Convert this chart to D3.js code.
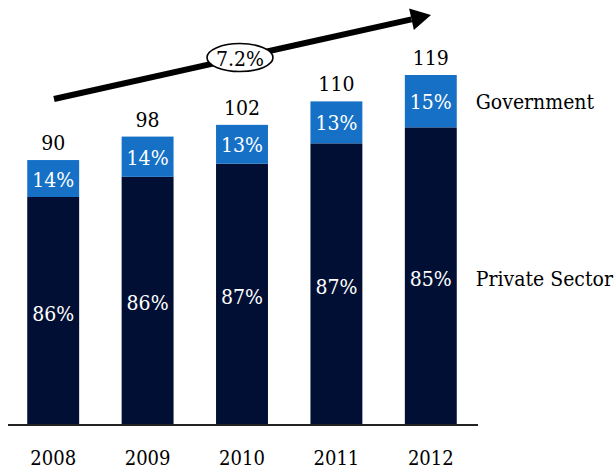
<!DOCTYPE html>
<html><head><meta charset="utf-8">
<script src="https://cdn.jsdelivr.net/npm/d3@7"></script>
<style>
html,body{margin:0;padding:0;background:#fff;}
svg text{font-family:"DejaVu Serif Condensed","DejaVu Serif",serif;font-stretch:condensed;}
</style></head>
<body>
<svg id="chart" width="614" height="471"></svg>
<script>
const years = ["2008","2009","2010","2011","2012"];
const totals = [90, 98, 102, 110, 119];
const privateShare = [86, 86, 87, 87, 85];
const governmentShare = [14, 14, 13, 13, 15];
const cagrLabel = "7.2%";
const seriesNames = ["Government", "Private Sector"];

const colGov = "#1570c6", colPriv = "#000f33";
const svg = d3.select("#chart");
const baseY = 424, topY = 75;
const FS = 21;

const x = d3.scaleBand().domain(years).range([6, 478]).paddingInner(0.45).paddingOuter(0.225);
const y = d3.scaleLinear().domain([0, d3.max(totals)]).range([baseY, topY]);

const data = years.map((yr, i) => {
  const t = totals[i];
  const priv = t * privateShare[i] / 100;
  return {yr, t, priv, ps: privateShare[i], gs: governmentShare[i]};
});

const g = svg.append("g");
g.selectAll("rect.priv").data(data).join("rect").attr("class","priv")
  .attr("x", d => x(d.yr)).attr("width", x.bandwidth())
  .attr("y", d => y(d.priv)).attr("height", d => y(0) - y(d.priv))
  .attr("fill", colPriv);
g.selectAll("rect.gov").data(data).join("rect").attr("class","gov")
  .attr("x", d => x(d.yr)).attr("width", x.bandwidth())
  .attr("y", d => y(d.t)).attr("height", d => y(d.priv) - y(d.t))
  .attr("fill", colGov);

const axis = svg.append("g").attr("transform", `translate(0,${baseY})`)
  .call(d3.axisBottom(x).tickSize(0).tickPadding(0));
axis.select(".domain").remove();
axis.selectAll("text").attr("font-size", 20).attr("fill", "#000")
  .attr("font-family", null).attr("dy", null).attr("y", 41);
svg.append("line").attr("x1", 8).attr("x2", 478).attr("y1", baseY + 1).attr("y2", baseY + 1)
  .attr("stroke", "#222").attr("stroke-width", 2);

g.selectAll("text.gs").data(data).join("text")
  .attr("x", d => x(d.yr) + x.bandwidth()/2)
  .attr("y", d => (y(d.t) + y(d.priv))/2 + 8)
  .attr("text-anchor","middle").attr("font-size", FS).attr("fill","#fff")
  .text(d => d.gs + "%");
g.selectAll("text.ps").data(data).join("text")
  .attr("x", d => x(d.yr) + x.bandwidth()/2)
  .attr("y", d => (y(d.priv) + y(0))/2 + 10)
  .attr("text-anchor","middle").attr("font-size", FS).attr("fill","#fff")
  .text(d => d.ps + "%");
g.selectAll("text.tot").data(data).join("text")
  .attr("x", d => x(d.yr) + x.bandwidth()/2)
  .attr("y", d => y(d.t) - 10)
  .attr("text-anchor","middle").attr("font-size", FS).attr("fill","#000")
  .text(d => d.t);

const last = data[data.length-1];
const lx = x(last.yr) + x.bandwidth() + 19;
svg.append("text").attr("x", lx).attr("y", (y(last.t)+y(last.priv))/2 + 8)
  .attr("font-size", FS).attr("fill","#000").text(seriesNames[0]);
svg.append("text").attr("x", lx).attr("y", (y(last.priv)+y(0))/2 + 10)
  .attr("font-size", FS).attr("fill","#000").text(seriesNames[1]);

const ax1 = 54, ay1 = 99, ax2 = 431, ay2 = 15;
const ang = Math.atan2(ay2 - ay1, ax2 - ax1);
const headLen = 20, headW = 11;
const bx = ax2 - headLen*Math.cos(ang), by = ay2 - headLen*Math.sin(ang);
svg.append("line").attr("x1", ax1).attr("y1", ay1).attr("x2", bx).attr("y2", by)
  .attr("stroke","#000").attr("stroke-width", 6);
const px = -Math.sin(ang), py = Math.cos(ang);
svg.append("path").attr("d", `M${ax2},${ay2} L${bx + px*headW},${by + py*headW} L${bx - px*headW},${by - py*headW} Z`)
  .attr("fill","#000");
const ex = 240, ey = ay1 + (ay2-ay1)*(ex-ax1)/(ax2-ax1);
svg.append("ellipse").attr("cx", ex).attr("cy", ey).attr("rx", 33).attr("ry", 14)
  .attr("fill","#fff").attr("stroke","#000").attr("stroke-width", 1.6);
svg.append("text").attr("x", ex).attr("y", ey + 8).attr("text-anchor","middle")
  .attr("font-size", FS).attr("fill","#000").text(cagrLabel);
</script>
</body></html>
